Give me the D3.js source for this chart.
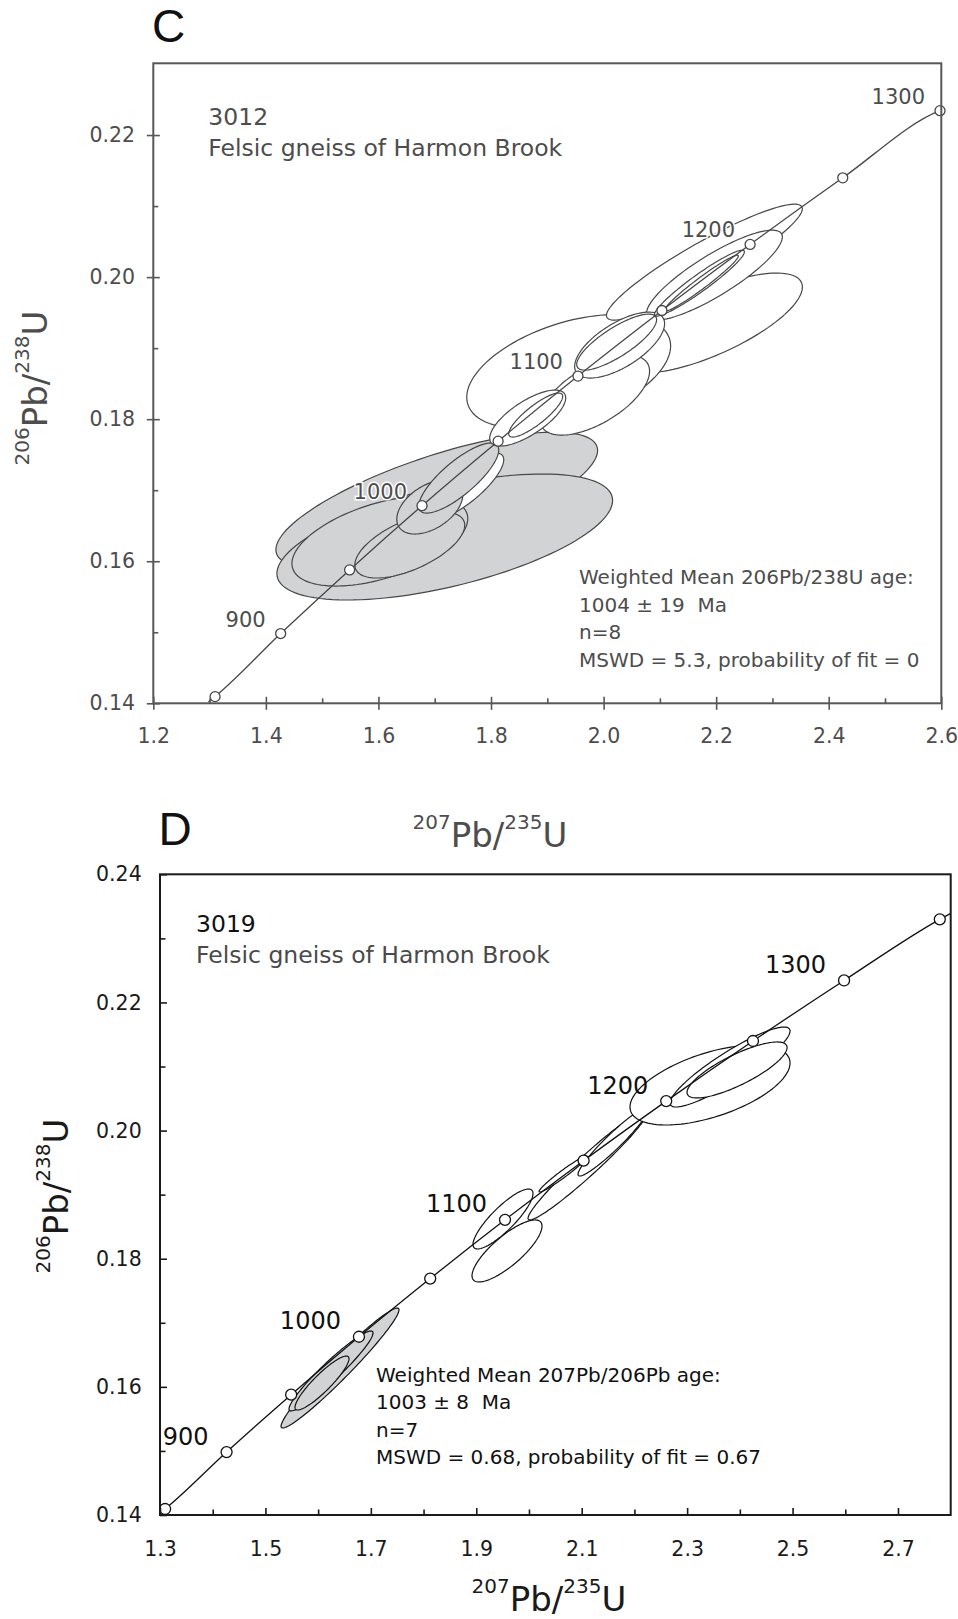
<!DOCTYPE html>
<html lang="en">
<head>
<meta charset="UTF-8">
<title>Concordia diagrams – Felsic gneiss of Harmon Brook</title>
<script src="https://cdnjs.cloudflare.com/ajax/libs/d3/7.8.5/d3.min.js"></script>
<style>
  body { margin: 0; background: #fff; }
  svg { display: block; }
  text { font-family: 'DejaVu Sans', Verdana, sans-serif; }
  .letter { font-family: 'Liberation Sans', Arial, sans-serif; }
</style>
</head>
<body>
<div id="chart"></div>
<script>
// Concordia reference points (age Ma, 207Pb/235U, 206Pb/238U)
const concAges = [850, 900, 950, 1000, 1050, 1100, 1150, 1200, 1250, 1300, 1350];
const concX = [1.3097, 1.4263, 1.5488, 1.6774, 1.8126, 1.9545, 2.1036, 2.2603, 2.4249, 2.5977, 2.7793];
const concY = [0.14094, 0.14982, 0.15878, 0.16782, 0.17690, 0.18607, 0.19530, 0.20460, 0.21398, 0.22343, 0.23297];
const labelAges = [900, 1000, 1100, 1200, 1300];

// where the concordia curve meets the frame
const cLineEnds = [[1.298, 0.1402], [2.600, 0.2235]];
const dLineEnds = [[1.300, 0.1403], [2.800, 0.2339]];

// panel C (sample 3012) error ellipses, in drawing order
const cEllX   = [1.7036, 1.7178, 1.6025, 1.6557, 1.7551, 1.6912, 1.7427, 2.1899, 1.9380, 1.9841, 2.1791, 2.1969, 2.0285, 2.0232, 1.8652, 1.8794, 2.1703, 2.1738];
const cEllY   = [0.16861, 0.16341, 0.16284, 0.16228, 0.17058, 0.16763, 0.17171, 0.19353, 0.18670, 0.18339, 0.20211, 0.20028, 0.19043, 0.19085, 0.18016, 0.18058, 0.19915, 0.19915];
const cEllSX  = [0.2858, 0.2982, 0.1562, 0.0976, 0.0675, 0.0586, 0.0710, 0.1633, 0.1811, 0.0976, 0.1740, 0.1207, 0.0799, 0.0710, 0.0675, 0.0479, 0.0799, 0.0657];
const cEllSY  = [0.00957, 0.00887, 0.00633, 0.00464, 0.00464, 0.00380, 0.00493, 0.00704, 0.00802, 0.00563, 0.00816, 0.00633, 0.00464, 0.00394, 0.00394, 0.00310, 0.00464, 0.00394];
const cEllRho = [0.73, 0.58, 0.50, 0.60, 0.80, 0.45, 0.80, 0.72, 0.45, 0.60, 0.92, 0.85, 0.65, 0.80, 0.72, 0.85, 0.95, 0.97];
const cEllUsed = [1, 1, 1, 1, 0, 1, 1, 0, 0, 0, 0, 0, 0, 0, 0, 0, 0, 0];

// panel D (sample 3019) error ellipses, in drawing order
const dEllX   = [1.6415, 1.6244, 1.6073, 1.9583, 1.9507, 2.1120, 2.0646, 2.1594, 2.3434, 2.3814, 2.3947];
const dEllY   = [0.16294, 0.16248, 0.16060, 0.18121, 0.18620, 0.19463, 0.19322, 0.19822, 0.20711, 0.20992, 0.20946];
const dEllSX  = [0.1119, 0.0797, 0.0512, 0.0664, 0.0569, 0.1138, 0.0455, 0.0664, 0.1518, 0.1138, 0.0949];
const dEllSY  = [0.00936, 0.00624, 0.00421, 0.00484, 0.00468, 0.00858, 0.00281, 0.00531, 0.00624, 0.00624, 0.00437];
const dEllRho = [0.97, 0.95, 0.90, 0.80, 0.85, 0.97, 0.97, 0.95, 0.55, 0.90, 0.80];
const dEllUsed = [1, 1, 1, 0, 0, 0, 0, 0, 0, 0, 0];

// axes
const cXDomain = [1.2, 2.6], cYDomain = [0.14, 0.2301];
const cXMajor = [1.2, 1.4, 1.6, 1.8, 2.0, 2.2, 2.4, 2.6];
const cXMinor = [1.3, 1.5, 1.7, 1.9, 2.1, 2.3, 2.5];
const cYMajor = [0.14, 0.16, 0.18, 0.20, 0.22];
const cYMinor = [0.15, 0.17, 0.19, 0.21];
const dXDomain = [1.3, 2.8], dYDomain = [0.14, 0.24];
const dXMajor = [1.3, 1.5, 1.7, 1.9, 2.1, 2.3, 2.5, 2.7];
const dXMinor = [1.4, 1.6, 1.8, 2.0, 2.2, 2.4, 2.6];
const dYMajor = [0.14, 0.16, 0.18, 0.20, 0.22, 0.24];
const dYMinor = [0.15, 0.17, 0.19, 0.21, 0.23];

// texts
const xTitle = ['207', 'Pb/', '235', 'U'];
const yTitle = ['206', 'Pb/', '238', 'U'];
const cSample = ['3012', 'Felsic gneiss of Harmon Brook'];
const dSample = ['3019', 'Felsic gneiss of Harmon Brook'];
const cInfo = ['Weighted Mean 206Pb/238U age:', '1004 \u00b1 19\u00a0 Ma', 'n=8', 'MSWD = 5.3, probability of fit = 0'];
const dInfo = ['Weighted Mean 207Pb/206Pb age:', '1003 \u00b1 8\u00a0 Ma', 'n=7', 'MSWD = 0.68, probability of fit = 0.67'];

const svg = d3.select('#chart').append('svg')
  .attr('width', 958)
  .attr('height', 1619);

const fmt1 = d3.format('.1f'), fmt2 = d3.format('.2f');

// isotope ratio title: small raised mass numbers, large element names
function isotopeTitle(sel, parts, big, small, rise) {
  parts.forEach((t, i) => {
    sel.append('tspan')
      .attr('font-size', i % 2 ? big : small)
      .attr('dy', i % 2 ? rise : -rise)
      .text(t);
  });
}

function drawPanel(p) {
  const x = d3.scaleLinear().domain(p.xDomain).range([p.box.left, p.box.right]);
  const y = d3.scaleLinear().domain(p.yDomain).range([p.box.bottom, p.box.top]);
  const g = svg.append('g');

  svg.append('clipPath').attr('id', 'clip-' + p.id)
    .append('rect')
    .attr('x', p.box.left).attr('y', p.box.top)
    .attr('width', p.box.right - p.box.left)
    .attr('height', p.box.bottom - p.box.top);
  const plot = g.append('g').attr('clip-path', `url(#clip-${p.id})`);

  // error ellipses (with error correlation)
  const ells = p.ell.x.map((cx, i) => ({
    cx, cy: p.ell.y[i], sx: p.ell.sx[i], sy: p.ell.sy[i], rho: p.ell.rho[i], used: p.ell.used[i]
  }));
  const steps = d3.range(120).map(k => k / 120 * 2 * Math.PI);
  const closed = d3.line().curve(d3.curveLinearClosed);
  plot.selectAll('path.ell')
    .data(ells).join('path')
    .attr('class', 'ell')
    .attr('d', e => closed(steps.map(t => {
      const c = Math.cos(t), s = Math.sin(t);
      return [x(e.cx + e.sx * c), y(e.cy + e.sy * (e.rho * c + Math.sqrt(1 - e.rho * e.rho) * s))];
    })))
    .attr('fill', e => e.used ? p.grayFill : '#fff')
    .attr('stroke', p.ink)
    .attr('stroke-width', 1.2);

  // concordia curve
  const pts = concAges.map((a, i) => ({ age: a, x: concX[i], y: concY[i] }));
  const trace = [p.lineEnds[0], ...pts.map(d => [d.x, d.y]), p.lineEnds[1]]
    .filter(d => d[0] <= p.lineEnds[1][0])
    .sort((a, b) => a[0] - b[0]);
  plot.append('path')
    .attr('d', d3.line().x(d => x(d[0])).y(d => y(d[1])).curve(d3.curveMonotoneX)(trace))
    .attr('fill', 'none')
    .attr('stroke', p.ink)
    .attr('stroke-width', 1.3);

  const inside = pts.filter(d => d.x <= p.xDomain[1] + 0.001 && d.y <= p.yDomain[1]);
  g.selectAll('circle.tick-age')
    .data(inside).join('circle')
    .attr('class', 'tick-age')
    .attr('cx', d => x(d.x)).attr('cy', d => y(d.y))
    .attr('r', p.dotR)
    .attr('fill', '#fff')
    .attr('stroke', p.ink)
    .attr('stroke-width', 1.3);

  const ageLab = g.selectAll('text.age')
    .data(inside.filter(d => labelAges.includes(d.age))).join('text')
    .attr('class', 'age')
    .attr('x', d => x(d.x) - p.ageDx)
    .attr('y', d => y(d.y) - p.ageDy)
    .attr('text-anchor', 'end')
    .attr('font-size', p.ageSize)
    .attr('fill', p.text)
    .text(d => d.age);
  if (p.halo) {
    ageLab.attr('stroke', '#fff').attr('stroke-width', 3).attr('paint-order', 'stroke');
  }

  // frame
  g.append('rect')
    .attr('x', p.box.left).attr('y', p.box.top)
    .attr('width', p.box.right - p.box.left)
    .attr('height', p.box.bottom - p.box.top)
    .attr('fill', 'none')
    .attr('stroke', p.frame)
    .attr('stroke-width', 2);

  // axes: labelled outer part, then inward major and minor ticks
  const xg = g.append('g').attr('transform', `translate(0,${p.box.bottom})`);
  xg.append('g').call(d3.axisBottom(x).tickValues(p.xMajor).tickSize(p.outTick).tickPadding(p.xPad).tickFormat(fmt1));
  xg.append('g').call(d3.axisTop(x).tickValues(p.xMajor).tickSize(p.majorIn).tickFormat(''));
  xg.append('g').call(d3.axisTop(x).tickValues(p.xMinor).tickSize(p.minorIn).tickFormat(''));

  const yg = g.append('g').attr('transform', `translate(${p.box.left},0)`);
  yg.append('g').call(d3.axisLeft(y).tickValues(p.yMajor).tickSize(p.outTick).tickPadding(p.yPad).tickFormat(fmt2));
  yg.append('g').call(d3.axisRight(y).tickValues(p.yMajor).tickSize(p.majorIn).tickFormat(''));
  yg.append('g').call(d3.axisRight(y).tickValues(p.yMinor).tickSize(p.minorIn).tickFormat(''));

  [xg, yg].forEach(a => {
    a.selectAll('.domain').remove();
    a.selectAll('g').attr('font-size', 20.5).attr('font-family', null);
    a.selectAll('.tick line').attr('stroke', p.frame).attr('stroke-width', 1.6);
    a.selectAll('.tick text').attr('fill', p.tickText);
  });

  // panel letter
  g.append('text').attr('class', 'letter')
    .attr('x', p.letterPos[0]).attr('y', p.letterPos[1])
    .attr('font-size', 46).attr('fill', '#111')
    .text(p.letter);

  // sample name
  g.append('text')
    .attr('x', p.box.left + p.sampleOff[0]).attr('y', p.box.top + p.sampleOff[1])
    .attr('font-size', 23.5).attr('fill', p.sampleColor)
    .text(p.sample[0]);
  g.append('text')
    .attr('x', p.box.left + p.sampleOff[0]).attr('y', p.box.top + p.sampleOff[1] + 31)
    .attr('font-size', 23.5).attr('fill', p.subColor)
    .text(p.sample[1]);

  // weighted mean summary
  g.selectAll('text.info')
    .data(p.info).join('text')
    .attr('class', 'info')
    .attr('x', p.infoPos[0])
    .attr('y', (d, i) => p.infoPos[1] + i * 27.5)
    .attr('font-size', 20)
    .attr('fill', p.text)
    .text(d => d);

  // axis titles
  const xt = g.append('text')
    .attr('x', p.xTitlePos[0]).attr('y', p.xTitlePos[1])
    .attr('text-anchor', 'middle').attr('fill', p.titleColor);
  isotopeTitle(xt, xTitle, 34, 20, 18);
  const yt = g.append('text')
    .attr('transform', `translate(${p.yTitlePos[0]},${p.yTitlePos[1]}) rotate(-90)`)
    .attr('text-anchor', 'middle').attr('fill', p.titleColor);
  isotopeTitle(yt, yTitle, 34, 20, 18);
}

drawPanel({
  id: 'c', letter: 'C', letterPos: [152, 42],
  box: { left: 153.3, right: 941.3, top: 63.3, bottom: 703.3 },
  xDomain: cXDomain, yDomain: cYDomain,
  xMajor: cXMajor, xMinor: cXMinor, yMajor: cYMajor, yMinor: cYMinor,
  outTick: 6.5, majorIn: 6.5, minorIn: 5, xPad: 18.5, yPad: 11.7,
  ell: { x: cEllX, y: cEllY, sx: cEllSX, sy: cEllSY, rho: cEllRho, used: cEllUsed },
  lineEnds: cLineEnds,
  dotR: 5, ageDx: 15, ageDy: 7, ageSize: 21, halo: true,
  ink: '#474747', frame: '#575757', text: '#4d4d4d', tickText: '#4d4d4d',
  sampleColor: '#4d4d4d', subColor: '#4d4d4d', titleColor: '#4d4d4d',
  grayFill: '#d1d3d4',
  sample: cSample, sampleOff: [55, 62],
  info: cInfo, infoPos: [579, 584],
  xTitlePos: [490, 847], yTitlePos: [46.7, 388]
});

drawPanel({
  id: 'd', letter: 'D', letterPos: [158.5, 845],
  box: { left: 160, right: 950.7, top: 874.3, bottom: 1515 },
  xDomain: dXDomain, yDomain: dYDomain,
  xMajor: dXMajor, xMinor: dXMinor, yMajor: dYMajor, yMinor: dYMinor,
  outTick: 0, majorIn: 7, minorIn: 5.5, xPad: 26.4, yPad: 18.3,
  ell: { x: dEllX, y: dEllY, sx: dEllSX, sy: dEllSY, rho: dEllRho, used: dEllUsed },
  lineEnds: dLineEnds,
  dotR: 5.5, ageDx: 18, ageDy: 7.5, ageSize: 24, halo: false,
  ink: '#111', frame: '#1a1a1a', text: '#111', tickText: '#1a1a1a',
  sampleColor: '#111', subColor: '#4a4a4a', titleColor: '#1a1a1a',
  grayFill: '#d1d3d4',
  sample: dSample, sampleOff: [36, 57.5],
  info: dInfo, infoPos: [376, 1381.7],
  xTitlePos: [549, 1611], yTitlePos: [68, 1196]
});
</script>
</body>
</html>
